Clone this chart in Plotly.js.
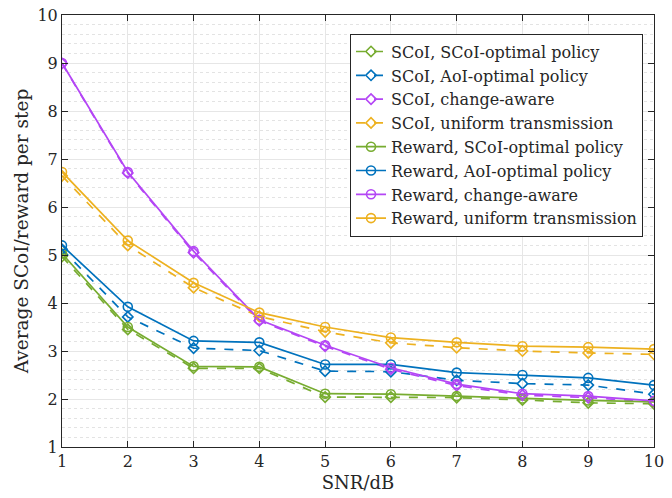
<!DOCTYPE html>
<html>
<head>
<meta charset="utf-8">
<script src="https://cdn.plot.ly/plotly-3.0.1.min.js"></script>
<style>html,body{margin:0;padding:0;background:#fff;}#chart{width:672px;height:498px;}</style>
</head>
<body>
<div id="chart"></div>
<script>
const snr = [1, 2, 3, 4, 5, 6, 7, 8, 9, 10];

const scoiScoiOpt   = [4.97, 3.45, 2.64, 2.64, 2.04, 2.04, 2.03, 1.98, 1.92, 1.90];
const scoiAoiOpt    = [5.12, 3.71, 3.06, 3.01, 2.58, 2.57, 2.39, 2.32, 2.29, 2.10];
const scoiChange    = [8.99, 6.71, 5.05, 3.63, 3.10, 2.62, 2.28, 2.08, 2.03, 1.94];
const scoiUniform   = [6.65, 5.20, 4.32, 3.72, 3.40, 3.17, 3.07, 3.00, 2.96, 2.93];

const rewScoiOpt    = [5.03, 3.50, 2.68, 2.67, 2.11, 2.10, 2.06, 2.01, 1.97, 1.94];
const rewAoiOpt     = [5.20, 3.92, 3.21, 3.18, 2.72, 2.72, 2.55, 2.50, 2.44, 2.29];
const rewChange     = [9.00, 6.73, 5.08, 3.65, 3.12, 2.65, 2.31, 2.11, 2.06, 1.96];
const rewUniform    = [6.73, 5.30, 4.42, 3.80, 3.50, 3.28, 3.18, 3.10, 3.08, 3.04];

const names = [
  'SCoI, SCoI-optimal policy', 'SCoI, AoI-optimal policy', 'SCoI, change-aware', 'SCoI, uniform transmission',
  'Reward, SCoI-optimal policy', 'Reward, AoI-optimal policy', 'Reward, change-aware', 'Reward, uniform transmission'
];
const series = [scoiScoiOpt, scoiAoiOpt, scoiChange, scoiUniform, rewScoiOpt, rewAoiOpt, rewChange, rewUniform];
const colors = ['#77AC30', '#0072BD', '#B446F5', '#EDB120'];

const traces = series.map((y, i) => {
  const dashed = i < 4;
  return {
    x: snr, y: y, name: names[i], type: 'scatter', mode: 'lines+markers',
    line: {color: colors[i % 4], width: 1.7, dash: dashed ? 'dash' : 'solid'},
    marker: {symbol: dashed ? 'diamond-open' : 'circle-open', size: dashed ? 8 : 9,
             color: colors[i % 4], line: {width: 1.6, color: colors[i % 4]}}
  };
});

const FAM = 'DejaVu Serif';
const f = (s) => ({family: FAM, size: s, color: '#262626'});

const layout = {
  width: 672, height: 498,
  margin: {l: 62, r: 18, t: 15, b: 51},
  paper_bgcolor: '#fff', plot_bgcolor: '#fff',
  font: f(16),
  showlegend: true,
  legend: {
    x: 0.4865, y: 0.957, xanchor: 'left', yanchor: 'top',
    bgcolor: '#fff', bordercolor: '#262626', borderwidth: 1,
    font: f(16),
    tracegroupgap: 0, itemwidth: 30
  },
  xaxis: {
    range: [1, 10], tickmode: 'linear', tick0: 1, dtick: 1,
    ticks: 'inside', ticklen: 6, tickcolor: '#262626', mirror: 'ticks',
    showline: true, linecolor: '#262626', linewidth: 1,
    showgrid: true, gridcolor: '#e6e6e6', gridwidth: 1, zeroline: false,
    tickfont: f(16),
    title: {text: 'SNR/dB', font: f(18), standoff: 6}
  },
  yaxis: {
    range: [1, 10], tickmode: 'linear', tick0: 1, dtick: 1,
    ticks: 'inside', ticklen: 6, tickcolor: '#262626', mirror: 'ticks',
    showline: true, linecolor: '#262626', linewidth: 1,
    showgrid: true, gridcolor: '#e6e6e6', gridwidth: 1, zeroline: false,
    minor: {dtick: 0.2, showgrid: true, gridcolor: '#e3e3e3', griddash: 'dot', gridwidth: 1, ticks: ''},
    tickfont: f(16),
    title: {text: 'Average SCoI/reward per step', font: f(18.5), standoff: 3}
  }
};

Plotly.newPlot('chart', traces, layout, {displayModeBar: false, staticPlot: true});
</script>
</body>
</html>
